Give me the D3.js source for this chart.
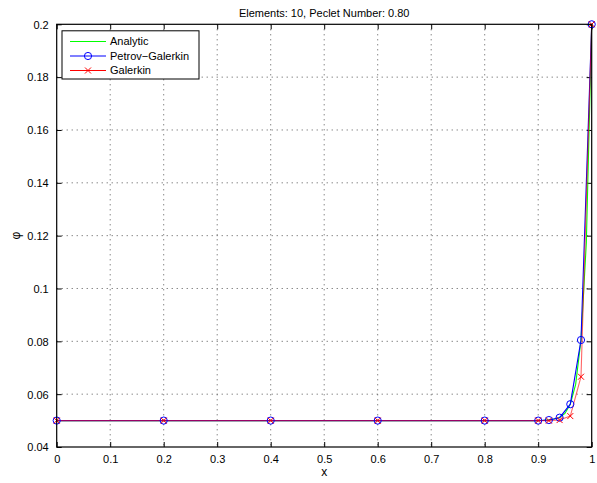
<!DOCTYPE html>
<html><head><meta charset="utf-8">
<script src="https://cdn.jsdelivr.net/npm/d3@7"></script>
<style>body{margin:0;background:#fff}svg{display:block}text{font-family:"Liberation Sans",Arial,Helvetica,sans-serif}</style>
</head><body><svg id="c" width="597" height="483"></svg>
<script>
const title = "Elements: 10, Peclet Number: 0.80";
const xTicks = [0,0.1,0.2,0.3,0.4,0.5,0.6,0.7,0.8,0.9,1];
const yTicks = [0.04,0.06,0.08,0.1,0.12,0.14,0.16,0.18,0.2];
const yTickLabels = ["0.04","0.06","0.08","0.1","0.12","0.14","0.16","0.18","0.2"];
const nodeX = [0,0.2,0.4,0.6,0.8,0.9,0.92,0.94,0.96,0.98,1.0];
const petrov = [0.05,0.05,0.05,0.05,0.05,0.05,0.0502,0.0511,0.0562,0.0805,0.2];
const galerkin = [0.05,0.05,0.05,0.05,0.05,0.05,0.0500,0.0502,0.0517,0.0666,0.2];
const analyticX = [0,0.9,0.91,0.92,0.93,0.94,0.95,0.96,0.97,0.98,0.99,1.0];
const analytic = [0.05,0.05,0.0501,0.0503,0.0506,0.0512,0.0527,0.0562,0.0637,0.0805,0.1175,0.2];
const legendLabels = ["Analytic","Petrov\u2212Galerkin","Galerkin"];

const L=56.7,R=591.7,T=24.3,B=447;
const svg=d3.select("#c");
const x=d3.scaleLinear().domain([0,1]).range([L,R]);
const y=d3.scaleLinear().domain([0.04,0.2]).range([B,T]);

// grid
const g=svg.append("g");
g.selectAll(".gx").data(xTicks.slice(1,-1)).join("line")
 .attr("x1",d=>x(d)).attr("x2",d=>x(d)).attr("y1",T).attr("y2",B)
 .attr("stroke","#555").attr("stroke-width",1).attr("stroke-dasharray","1,4");
g.selectAll(".gy").data(yTicks.slice(1,-1)).join("line")
 .attr("y1",d=>y(d)).attr("y2",d=>y(d)).attr("x1",L).attr("x2",R)
 .attr("stroke","#555").attr("stroke-width",1).attr("stroke-dasharray","1,4");

// axes with inward ticks
const tl=5;
const ax=svg.append("g").attr("transform",`translate(0,${B})`)
 .call(d3.axisBottom(x).tickValues(xTicks).tickSize(-tl).tickPadding(8).tickFormat(d3.format("")));
const axT=svg.append("g").attr("transform",`translate(0,${T})`)
 .call(d3.axisTop(x).tickValues(xTicks).tickSize(-tl).tickFormat(""));
const ay=svg.append("g").attr("transform",`translate(${L},0)`)
 .call(d3.axisLeft(y).tickValues(yTicks).tickSize(-tl).tickPadding(8).tickFormat((d,i)=>yTickLabels[i]));
const ayR=svg.append("g").attr("transform",`translate(${R},0)`)
 .call(d3.axisRight(y).tickValues(yTicks).tickSize(-tl).tickFormat(""));
[ax,axT,ay,ayR].forEach(a=>{
  a.selectAll(".domain").remove();
  a.selectAll("line").attr("stroke","#000");
  a.selectAll("text").attr("font-size",11).attr("fill","#000")
   .style("font-family",'"Liberation Sans",Arial,sans-serif');
});
ay.selectAll("text").attr("dy","0.35em");

// lines
const line=(xs)=>d3.line().x((d,i)=>x(xs[i])).y(d=>y(d));
svg.append("path").datum(analytic).attr("d",line(analyticX))
 .attr("fill","none").attr("stroke","#00ff00").attr("stroke-width",1.1);
svg.append("path").datum(petrov).attr("d",line(nodeX))
 .attr("fill","none").attr("stroke","#0000ff").attr("stroke-width",1.1);
svg.append("path").datum(galerkin).attr("d",line(nodeX))
 .attr("fill","none").attr("stroke","#ff0000").attr("stroke-opacity",0.6).attr("stroke-width",1.1);

// markers
svg.append("g").selectAll("circle").data(petrov).join("circle")
 .attr("cx",(d,i)=>x(nodeX[i])).attr("cy",d=>y(d)).attr("r",3.6)
 .attr("fill","none").attr("stroke","#0000ff").attr("stroke-width",1);
const xs=3;
svg.append("g").selectAll("path").data(galerkin).join("path")
 .attr("d",(d,i)=>{const cx=x(nodeX[i]),cy=y(d);return `M${cx-xs},${cy-xs}L${cx+xs},${cy+xs}M${cx-xs},${cy+xs}L${cx+xs},${cy-xs}`;})
 .attr("stroke","#ff0000").attr("stroke-width",1).attr("fill","none");

// box
svg.append("rect").attr("x",L).attr("y",T).attr("width",R-L).attr("height",B-T)
 .attr("fill","none").attr("stroke","#000").attr("stroke-width",1.2);

// title and labels
svg.append("text").attr("x",(L+R)/2).attr("y",17).attr("text-anchor","middle")
 .attr("font-size",11).text(title);
svg.append("text").attr("x",(L+R)/2).attr("y",476).attr("text-anchor","middle")
 .attr("font-size",12).text("x");
svg.append("text").attr("transform",`translate(20,${(T+B)/2}) rotate(-90)`).attr("text-anchor","middle")
 .attr("font-size",12).text("\u03c6");

// legend
const lg=svg.append("g");
lg.append("rect").attr("x",62).attr("y",30.8).attr("width",137).attr("height",48.2)
 .attr("fill","#fff").attr("stroke","#000").attr("stroke-width",1);
const colors=["#00ff00","#0000ff","#ff0000"];
legendLabels.forEach((lab,i)=>{
  const yy=41.5+i*14.5;
  lg.append("line").attr("x1",70).attr("x2",106).attr("y1",yy).attr("y2",yy)
   .attr("stroke",colors[i]).attr("stroke-width",1.1);
  if(i===1) lg.append("circle").attr("cx",88).attr("cy",yy).attr("r",3.6)
   .attr("fill","none").attr("stroke","#0000ff");
  if(i===2) lg.append("path").attr("d",`M${88-xs},${yy-xs}L${88+xs},${yy+xs}M${88-xs},${yy+xs}L${88+xs},${yy-xs}`)
   .attr("stroke","#ff0000");
  lg.append("text").attr("x",110).attr("y",yy).attr("dy","0.35em")
   .attr("font-size",11).text(lab);
});
</script></body></html>
